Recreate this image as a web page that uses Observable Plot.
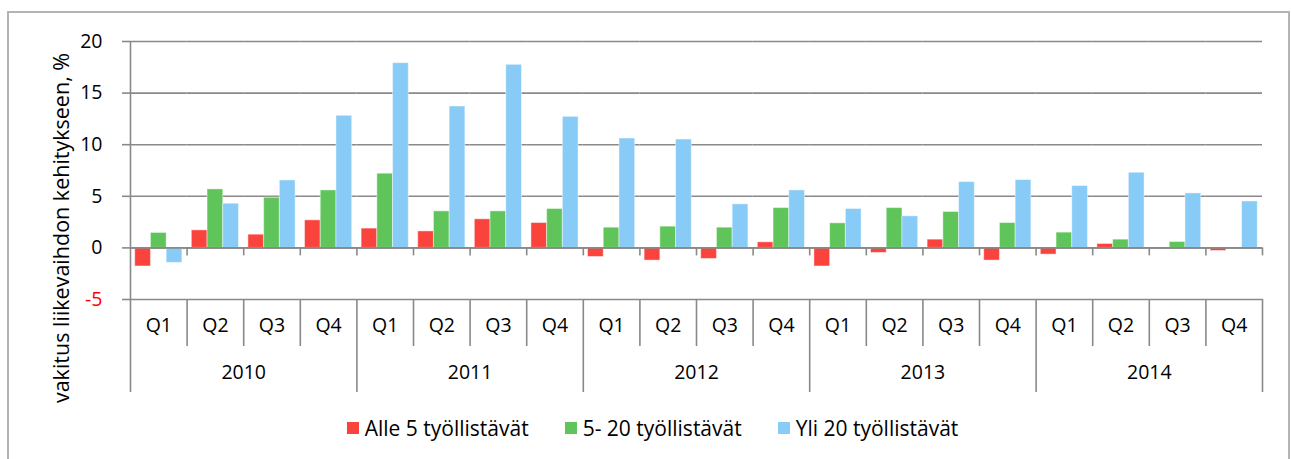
<!DOCTYPE html>
<html>
<head>
<meta charset="utf-8">
<script src="https://cdn.jsdelivr.net/npm/d3@7"></script>
<script src="https://cdn.jsdelivr.net/npm/@observablehq/plot@0.6"></script>
<style>
  html, body { margin: 0; padding: 0; background: #fff; }
  #wrap { position: relative; width: 1291px; height: 459px; overflow: hidden; font-family: "Open Sans", Lato, sans-serif; }
  #frame { position: absolute; left: 7px; top: 11px; width: 1283px; height: 470px; border: 2px solid #b4b4b4; box-sizing: border-box; }
  #chart { position: absolute; left: 0; top: 0; }
  #ylabel { position: absolute; left: 61px; top: 228px; transform: translate(-50%, -50%) rotate(-90deg); white-space: nowrap; font-size: 21.5px; color: #000; line-height: 26px; }
  #legend { position: absolute; left: 0; top: 415px; width: 1291px; display: flex; justify-content: center; padding-left: 14px; box-sizing: border-box; font-size: 21px; color: #000; line-height: 26px; }
  .item { display: flex; align-items: center; margin: 0 18px; }
  .sw { width: 12px; height: 12px; margin-right: 6px; }
</style>
</head>
<body>
<div id="wrap">
  <div id="frame"></div>
  <div id="chart"></div>
  <div id="ylabel"></div>
  <div id="legend"></div>
</div>
<script>
const years = ["2010", "2011", "2012", "2013", "2014"];
const quarters = ["Q1", "Q2", "Q3", "Q4"];
const seriesNames = ["Alle 5 työllistävät", "5- 20 työllistävät", "Yli 20 työllistävät"];
const seriesColors = ["#fa433c", "#5fc55a", "#87cbf6"];
const alle5 = [-1.8, 1.7, 1.28, 2.67, 1.87, 1.6, 2.77, 2.41, -0.88, -1.23, -1.07, 0.54, -1.8, -0.49, 0.8, -1.23, -0.65, 0.38, 0, -0.3];
const from5to20 = [1.45, 5.67, 4.86, 5.57, 7.19, 3.54, 3.54, 3.77, 1.96, 2.06, 1.96, 3.86, 2.38, 3.86, 3.48, 2.41, 1.48, 0.8, 0.57, 0];
const yli20 = [-1.45, 4.28, 6.54, 12.8, 17.9, 13.7, 17.74, 12.7, 10.6, 10.5, 4.22, 5.57, 3.77, 3.06, 6.38, 6.57, 5.99, 7.28, 5.28, 4.5];
const yTicks = [-5, 0, 5, 10, 15, 20];
const yLabel = "vakitus liikevaihdon kehitykseen, %";

// build tables
const cats = [];
years.forEach(y => quarters.forEach(q => cats.push({key: y + " " + q, year: y, quarter: q})));
const keys = cats.map(c => c.key);
const seriesValues = [alle5, from5to20, yli20];
const rows = [];
cats.forEach((c, i) => seriesNames.forEach((s, j) => rows.push({key: c.key, series: s, value: seriesValues[j][i]})));

const W = 1291, H = 400, ML = 130, MR = 29, MT = 41, MB = 101;
const step = (W - ML - MR) / keys.length;
const gray = "#898989";
const SW = 1.6;
const firstKey = keys[0], lastKey = keys[keys.length - 1];
const idx = k => keys.indexOf(k);
const FONT = "'Open Sans', Lato, sans-serif";

const plot = Plot.plot({
  width: W, height: H,
  marginLeft: ML, marginRight: MR, marginTop: MT, marginBottom: MB,
  style: {fontFamily: FONT, fontSize: "19.5px", color: "#000", background: "transparent"},
  fx: {domain: keys, padding: 0, round: false, axis: null},
  x: {domain: seriesNames, paddingInner: 0, paddingOuter: 0.3, round: false, axis: null},
  y: {domain: [-5, 20], axis: null},
  color: {domain: seriesNames, range: seriesColors},
  marks: [
    Plot.gridY(yTicks, {stroke: gray, strokeOpacity: 1, strokeWidth: SW}),
    // y axis ticks
    Plot.axisY({ticks: yTicks, tickSize: 8, tickFormat: () => "", label: null, stroke: gray, strokeWidth: SW}),
    Plot.barY(rows, {fx: "key", x: "series", y: "value", fill: "series", stroke: "#fff", strokeOpacity: 0.45, strokeWidth: 1}),
    // zero-line ticks at category boundaries
    Plot.ruleX(keys.slice(1), {fx: d => d, x: null, y1: 0, y2: 0, insetBottom: -8, dx: -step / 2, stroke: gray, strokeWidth: SW}),
    Plot.ruleX([lastKey], {fx: d => d, x: null, y1: 0, y2: 0, insetBottom: -8, dx: step / 2, stroke: gray, strokeWidth: SW}),
    Plot.ruleY([0], {stroke: gray, strokeWidth: SW}),
    // quarter separators
    Plot.ruleX(keys.filter(k => idx(k) % 4 !== 0), {fx: d => d, x: null, y1: -5, y2: -5, insetBottom: -47, dx: -step / 2, stroke: gray, strokeWidth: SW}),
    // year separators
    Plot.ruleX(keys.filter(k => idx(k) % 4 === 0 && idx(k) > 0), {fx: d => d, x: null, y1: -5, y2: -5, insetBottom: -93, dx: -step / 2, stroke: gray, strokeWidth: SW}),
    Plot.ruleX([lastKey], {fx: d => d, x: null, y1: -5, y2: -5, insetBottom: -93, dx: step / 2, stroke: gray, strokeWidth: SW}),
    // value axis line
    Plot.ruleX([firstKey], {fx: d => d, x: null, y1: 20, y2: -5, insetBottom: -93, dx: -step / 2, stroke: gray, strokeWidth: SW}),
    // y tick labels
    Plot.text(yTicks.filter(v => v >= 0), {fx: () => firstKey, y: d => d, text: d => String(d), frameAnchor: "left", textAnchor: "end", dx: -28, fill: "#000"}),
    Plot.text(yTicks.filter(v => v < 0), {fx: () => firstKey, y: d => d, text: d => String(d), frameAnchor: "left", textAnchor: "end", dx: -28, fill: "#ff0000"}),
    // quarter labels
    Plot.text(cats, {fx: "key", text: "quarter", frameAnchor: "bottom", dy: 32, fill: "#000"}),
    // year labels (centered between Q2 and Q3)
    Plot.text(years, {fx: d => d + " Q2", text: d => d, frameAnchor: "bottom-right", textAnchor: "middle", dy: 79, fill: "#000"})
  ]
});
document.getElementById("chart").appendChild(plot);
document.getElementById("ylabel").textContent = yLabel;

const legend = document.getElementById("legend");
seriesNames.forEach((s, i) => {
  const it = document.createElement("div");
  it.className = "item";
  const sw = document.createElement("div");
  sw.className = "sw";
  sw.style.background = seriesColors[i];
  const tx = document.createElement("span");
  tx.textContent = s;
  it.appendChild(sw); it.appendChild(tx);
  legend.appendChild(it);
});
</script>
</body>
</html>
